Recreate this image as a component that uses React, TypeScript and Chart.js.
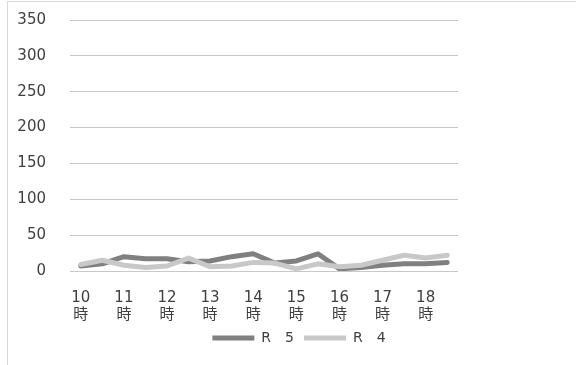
import React, { useEffect, useRef } from "react";
import { Chart, registerables } from "chart.js";

Chart.register(...registerables);

const categories = [
  "10時", "", "11時", "", "12時", "", "13時", "", "14時", "",
  "15時", "", "16時", "", "17時", "", "18時", "",
];
const seriesNames = ["R\u30005", "R\u30004"];
const r5Values = [7, 10, 20, 17, 17, 13, 14, 20, 24, 11, 14, 24, 3, 5, 8, 10, 10, 12];
const r4Values = [9, 15, 8, 5, 7, 18, 6, 7, 12, 11, 3, 10, 6, 8, 15, 22, 18, 22];
const yMin = 0;
const yMax = 350;
const yStep = 50;

const FONT = "'DejaVu Sans', 'Noto Sans CJK JP', sans-serif";

export default function App() {
  const ref = useRef<HTMLCanvasElement | null>(null);

  useEffect(() => {
    const prevMargin = document.body.style.margin;
    document.body.style.margin = "0";
    const canvas = ref.current;
    if (!canvas) return;
    const chart = new Chart(canvas, {
      type: "line",
      data: {
        labels: categories,
        datasets: [
          {
            label: seriesNames[0],
            data: r5Values,
            borderColor: "#808080",
            backgroundColor: "#808080",
            borderWidth: 5,
            pointRadius: 0,
            borderJoinStyle: "round",
            borderCapStyle: "round",
            order: 1,
          },
          {
            label: seriesNames[1],
            data: r4Values,
            borderColor: "#c8c8c8",
            backgroundColor: "#c8c8c8",
            borderWidth: 5,
            pointRadius: 0,
            borderJoinStyle: "round",
            borderCapStyle: "round",
            order: 0,
          },
        ],
      },
      options: {
        responsive: false,
        animation: false,
        layout: { padding: { left: 10, right: 0, top: 20, bottom: 10 } },
        plugins: {
          tooltip: { enabled: false },
          legend: {
            position: "bottom",
            align: "center",
            labels: {
              usePointStyle: true,
              pointStyle: "line",
              pointStyleWidth: 42,
              padding: 10,
              color: "#404040",
              font: { family: FONT, size: 14 },
              sort: (a: any, b: any) => a.datasetIndex - b.datasetIndex,
            },
          },
        },
        scales: {
          x: {
            type: "category",
            offset: true,
            grid: { display: false, drawTicks: false },
            border: { display: false },
            ticks: {
              autoSkip: false,
              maxRotation: 0,
              minRotation: 0,
              padding: 18,
              color: "#404040",
              font: { family: FONT, size: 15, lineHeight: 1.15 },
              callback: function (this: any, value: any, index: number) {
                const s = categories[index];
                if (!s) return "";
                return [s.slice(0, -1), s.slice(-1)];
              },
            },
            afterFit: (scale: any) => {
              scale.height = 50;
            },
          },
          y: {
            min: yMin,
            max: yMax,
            grid: { color: "#c8c8c8", lineWidth: 1, drawTicks: false },
            border: { display: false },
            ticks: {
              stepSize: yStep,
              padding: 24,
              color: "#404040",
              font: { family: FONT, size: 15 },
            },
            afterFit: (scale: any) => {
              scale.width = 60;
              scale.paddingTop = 0;
              scale.paddingBottom = 0;
            },
          },
          yRight: {
            position: "right",
            display: true,
            grid: { display: false, drawTicks: false },
            border: { display: false },
            ticks: { display: false },
            afterFit: (scale: any) => {
              scale.width = 130;
              scale.paddingTop = 0;
              scale.paddingBottom = 0;
            },
          },
        },
      },
    });
    return () => {
      chart.destroy();
      document.body.style.margin = prevMargin;
    };
  }, []);

  return (
    <div style={{ position: "relative", width: 576, height: 365, overflow: "hidden" }}>
      <div
        style={{
          position: "absolute",
          left: 7,
          top: 1,
          width: 620,
          height: 420,
          borderTop: "1px solid #d9d9d9",
          borderLeft: "1px solid #d9d9d9",
          boxSizing: "border-box",
        }}
      />
      <canvas
        ref={ref}
        width={588}
        height={365}
        style={{ position: "absolute", left: 0, top: 0, width: 588, height: 365 }}
      />
    </div>
  );
}
